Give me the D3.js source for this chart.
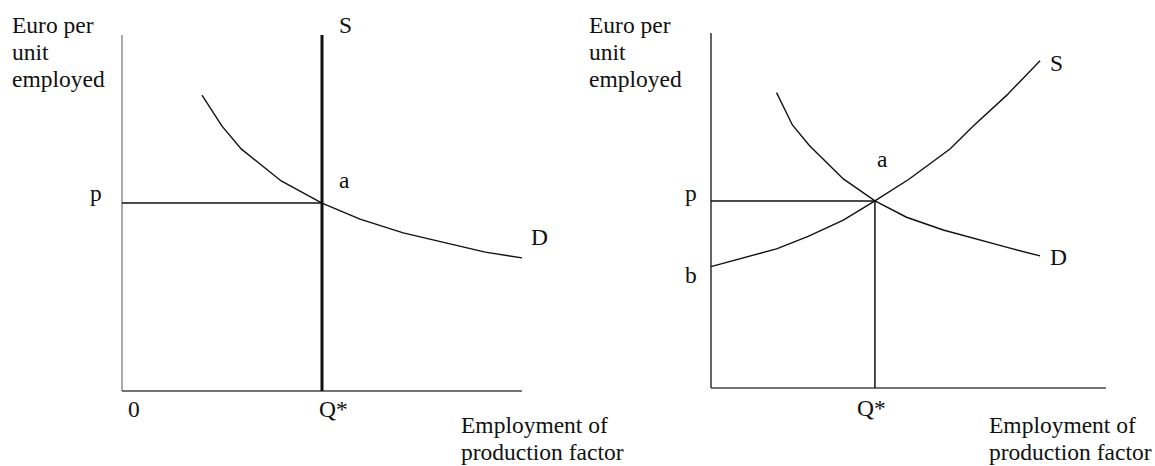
<!DOCTYPE html>
<html>
<head>
<meta charset="utf-8">
<script src="https://cdn.jsdelivr.net/npm/d3@7"></script>
<style>
  html, body { margin: 0; padding: 0; background: #fff; }
  svg text { font-family: "Liberation Serif", "Times New Roman", serif; font-size: 23.5px; fill: #111; }
</style>
</head>
<body>
<svg id="chart" width="1155" height="466"></svg>
<script>
/* ===== data (abstract units, 0..10 on both axes) ===== */
// left panel: fixed supply, falling demand
const leftDemandX = [2.0, 2.5, 2.98, 3.98, 5.0, 5.95, 7.03, 9.08, 10.0];
const leftDemandY = [8.31, 7.44, 6.80, 5.90, 5.28, 4.83, 4.44, 3.90, 3.74];
const leftQ = 5.0;
const leftP = 5.28;

// right panel: rising supply, falling demand
const rightDemandX = [1.66, 2.06, 2.49, 3.35, 4.15, 4.95, 5.88, 7.57, 8.33];
const rightDemandY = [8.32, 7.41, 6.83, 5.89, 5.27, 4.81, 4.45, 3.94, 3.72];
const rightSupplyX = [0, 1.66, 2.46, 3.35, 4.15, 5.01, 6.05, 6.64, 7.49, 8.33];
const rightSupplyY = [3.42, 3.92, 4.27, 4.73, 5.27, 5.88, 6.73, 7.38, 8.25, 9.22];
const rightQ = 4.15;
const rightP = 5.27;
const rightB = 3.42;

const yTitle = ["Euro per", "unit", "employed"];
const xTitle = ["Employment of", "production factor"];

/* ===== helpers ===== */
const svg = d3.select("#chart");
const zip = (xs, ys) => xs.map((x, i) => [x, ys[i]]);

function panel(opt) {
  const x = d3.scaleLinear().domain([0, 10]).range(opt.xr);
  const y = d3.scaleLinear().domain([0, 10]).range(opt.yr);
  const g = svg.append("g");
  const line = d3.line().x(d => x(d[0])).y(d => y(d[1]));

  // axes (plain lines, no ticks)
  g.append("line")
    .attr("x1", x(0)).attr("x2", x(0))
    .attr("y1", y(0)).attr("y2", y(10))
    .attr("stroke", opt.yAxisColor).attr("stroke-width", 1.4);
  g.append("line")
    .attr("x1", x(0)).attr("x2", x(10))
    .attr("y1", y(0)).attr("y2", y(0))
    .attr("stroke", "#444").attr("stroke-width", 1.4);

  // y title
  g.append("text")
    .attr("x", opt.titleX).attr("y", 33)
    .selectAll("tspan").data(yTitle).join("tspan")
    .attr("x", opt.titleX)
    .attr("dy", (d, i) => i ? 27 : 0)
    .text(d => d);

  // x title
  g.append("text")
    .attr("x", opt.xTitleX).attr("y", 433)
    .selectAll("tspan").data(xTitle).join("tspan")
    .attr("x", opt.xTitleX)
    .attr("dy", (d, i) => i ? 27 : 0)
    .text(d => d);

  return { g, x, y, line };
}

/* ===== left panel ===== */
{
  const { g, x, y, line } = panel({
    xr: [122, 522], yr: [391, 35], yAxisColor: "#888",
    titleX: 12, xTitleX: 461
  });

  // price line
  g.append("path").datum([[0, leftP], [leftQ, leftP]])
    .attr("d", line).attr("fill", "none")
    .attr("stroke", "#111").attr("stroke-width", 1.6);

  // demand
  g.append("path").datum(zip(leftDemandX, leftDemandY))
    .attr("d", line).attr("fill", "none")
    .attr("stroke", "#111").attr("stroke-width", 1.4);

  // vertical supply (thick)
  g.append("path").datum([[leftQ, 0], [leftQ, 10]])
    .attr("d", line).attr("fill", "none")
    .attr("stroke", "#111").attr("stroke-width", 3);

  g.append("text").attr("x", x(0) - 32).attr("y", y(leftP) - 2).text("p");
  g.append("text").attr("x", x(leftQ) + 17).attr("y", y(leftP) - 15).text("a");
  g.append("text").attr("x", x(leftQ) + 17).attr("y", 33).text("S");
  g.append("text").attr("x", x(10) + 9).attr("y", y(leftDemandY[leftDemandY.length - 1]) - 13).text("D");
  g.append("text").attr("x", x(0) + 6).attr("y", 417).text("0");
  g.append("text").attr("x", x(leftQ) - 3).attr("y", 417).text("Q*");
}

/* ===== right panel ===== */
{
  const { g, x, y, line } = panel({
    xr: [711, 1106], yr: [388, 33], yAxisColor: "#222",
    titleX: 589, xTitleX: 989
  });

  g.append("path").datum([[0, rightP], [rightQ, rightP], [rightQ, 0]])
    .attr("d", line).attr("fill", "none")
    .attr("stroke", "#111").attr("stroke-width", 1.5);

  g.append("path").datum(zip(rightDemandX, rightDemandY))
    .attr("d", line).attr("fill", "none")
    .attr("stroke", "#111").attr("stroke-width", 1.4);

  g.append("path").datum(zip(rightSupplyX, rightSupplyY))
    .attr("d", line).attr("fill", "none")
    .attr("stroke", "#111").attr("stroke-width", 1.4);

  g.append("text").attr("x", x(0) - 26).attr("y", y(rightP)).text("p");
  g.append("text").attr("x", x(0) - 26).attr("y", y(rightB) + 16).text("b");
  g.append("text").attr("x", x(rightQ) + 2).attr("y", y(rightP) - 34).text("a");
  g.append("text").attr("x", x(rightSupplyX[rightSupplyX.length - 1]) + 10)
    .attr("y", y(rightSupplyY[rightSupplyY.length - 1]) + 10).text("S");
  g.append("text").attr("x", x(rightDemandX[rightDemandX.length - 1]) + 10)
    .attr("y", y(rightDemandY[rightDemandY.length - 1]) + 9).text("D");
  g.append("text").attr("x", x(rightQ) - 18).attr("y", 416).text("Q*");
}
</script>
</body>
</html>
